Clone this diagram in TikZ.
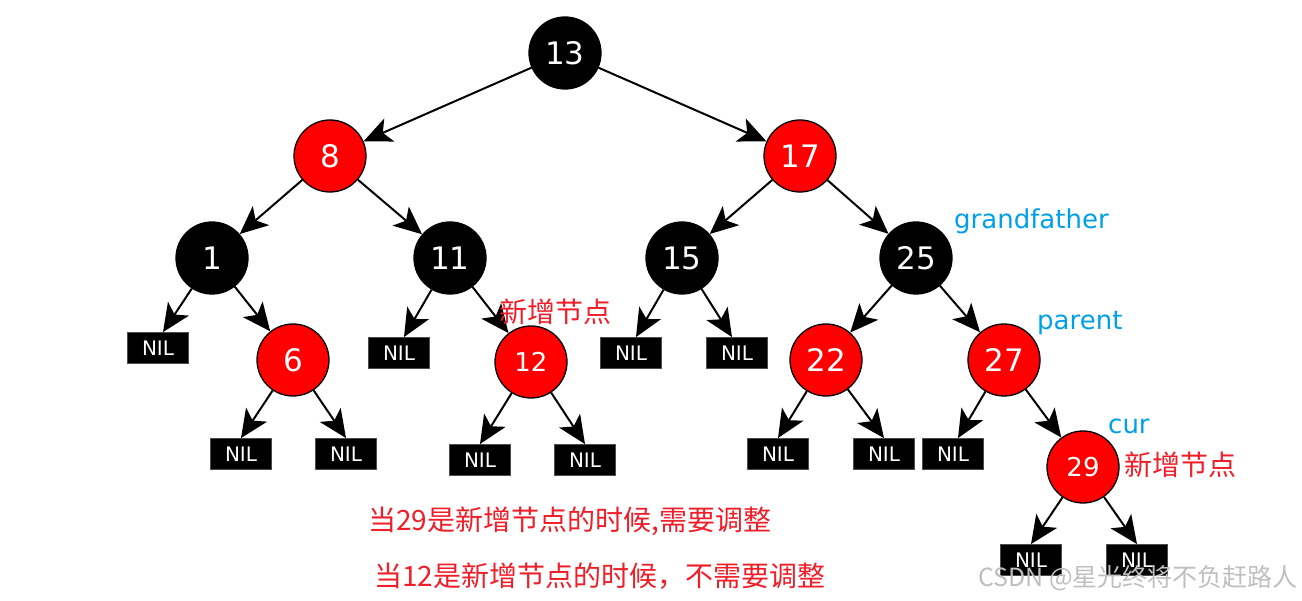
\documentclass[tikz,border=0pt]{standalone}
\usepackage{fontspec}
\setmainfont{DejaVu Sans}
\newfontfamily\cjk{Noto Sans CJK SC}
\usetikzlibrary{arrows.meta}
\definecolor{rbred}{RGB}{255,0,0}
\definecolor{lblblue}{RGB}{0,160,233}
\definecolor{txtred}{RGB}{240,30,40}
\begin{document}
\begin{tikzpicture}[x=1pt,y=-1pt,
  rbnode/.style={circle,draw=black,line width=1.3pt,minimum size=72pt,inner sep=0pt,text=white,font=\fontsize{31}{31}\selectfont},
  blk/.style={rbnode,fill=black},
  rd/.style={rbnode,fill=rbred},
  rdsmall/.style={rd,font=\fontsize{26}{26}\selectfont},
  nil/.style={rectangle,fill=black,draw=black!70,line width=0.8pt,minimum width=61pt,minimum height=31pt,inner sep=0pt,text=white,font=\fontsize{20}{20}\selectfont},
  edge/.style={line width=2pt,-{Stealth[length=28pt,width=25pt,inset=7pt]}},
  lbl/.style={text=lblblue,font=\fontsize{26}{26}\selectfont,inner sep=0pt},
  cn/.style={text=txtred,font=\cjk\fontsize{28}{28}\selectfont,inner sep=0pt}
]
\useasboundingbox (0,0) rectangle (1302,601);
\fill[white] (0,0) rectangle (1302,601);

\node[blk] (n13) at (565,53) {13};
\node[rd] (n8) at (330,156) {8};
\node[rd] (n17) at (800,156) {17};
\node[blk] (n1) at (212,258) {1};
\node[blk] (n11) at (450,258) {11};
\node[blk] (n15) at (682,258) {15};
\node[blk] (n25) at (916,258) {25};
\node[rd] (n6) at (293,360) {6};
\node[rdsmall] (n12) at (531,362) {12};
\node[rd] (n22) at (826,360) {22};
\node[rd] (n27) at (1004,360) {27};
\node[rdsmall] (n29) at (1083,467) {29};

\node[nil] (a1) at (158,348) {NIL};
\node[nil] (a11) at (399,353) {NIL};
\node[nil] (a15l) at (631,353) {NIL};
\node[nil] (a15r) at (737,353) {NIL};
\node[nil] (a6l) at (241,454) {NIL};
\node[nil] (a6r) at (346,454) {NIL};
\node[nil] (a12l) at (480,460) {NIL};
\node[nil] (a12r) at (585,460) {NIL};
\node[nil] (a22l) at (778,454) {NIL};
\node[nil] (a22r) at (884,454) {NIL};
\node[nil] (a27l) at (953,454) {NIL};
\node[nil] (a29l) at (1031,560) {NIL};
\node[nil] (a29r) at (1137,560) {NIL};

\draw[edge] (n13) -- (n8);
\draw[edge] (n13) -- (n17);
\draw[edge] (n8) -- (n1);
\draw[edge] (n8) -- (n11);
\draw[edge] (n17) -- (n15);
\draw[edge] (n17) -- (n25);
\draw[edge] (n1) -- ([xshift=5pt]a1.north);
\draw[edge] (n1) -- (n6);
\draw[edge] (n11) -- ([xshift=5pt]a11.north);
\draw[edge] (n11) -- (n12);
\draw[edge] (n15) -- ([xshift=5pt]a15l.north);
\draw[edge] (n15) -- ([xshift=-5pt]a15r.north);
\draw[edge] (n25) -- (n22);
\draw[edge] (n25) -- (n27);
\draw[edge] (n6) -- (a6l.north);
\draw[edge] (n6) -- (a6r.north);
\draw[edge] (n12) -- (a12l.north);
\draw[edge] (n12) -- (a12r.north);
\draw[edge] (n22) -- (a22l.north);
\draw[edge] (n22) -- (a22r.north);
\draw[edge] (n27) -- ([xshift=5pt]a27l.north);
\draw[edge] (n27) -- (n29);
\draw[edge] (n29) -- (a29l.north);
\draw[edge] (n29) -- (a29r.north);

\node[lbl,anchor=west] (g) at (954,221) {grandfather};
\node[lbl,anchor=west] (p) at (1037,323) {parent};
\node[lbl,anchor=west] (c) at (1108,426) {cur};
\node[cn,anchor=west] (x12) at (499,312) {新增节点};
\node[cn,anchor=west] (x29) at (1124,465) {新增节点};
\node[cn,anchor=west] (t1) at (368,521) {当29是新增节点的时候,需要调整};
\node[cn,anchor=west] (t2) at (374,576) {当12是新增节点的时候，不需要调整};
\node[anchor=east,inner sep=0pt,text=black!25,font=\cjk\fontsize{25}{25}\selectfont] (wm) at (1298,578) {CSDN @星光终将不负赶路人};
\end{tikzpicture}
\end{document}
